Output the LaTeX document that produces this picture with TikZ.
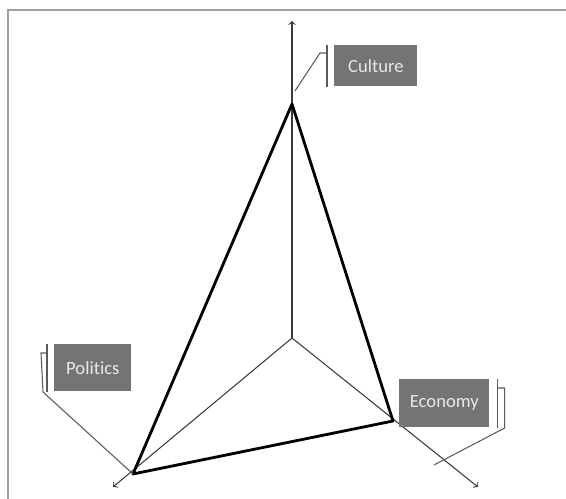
\documentclass[tikz,border=0pt]{standalone}
\usepackage{fontspec}
\setsansfont{Carlito}[Ligatures=NoCommon]
\usetikzlibrary{calc}
\definecolor{boxgray}{HTML}{747474}
\definecolor{boxtext}{HTML}{E8E8E8}
\definecolor{leadgray}{HTML}{5A5A5A}
\definecolor{axisgray}{HTML}{3A3A3A}

\begin{document}
\begin{tikzpicture}[x=0.02cm, y=-0.02cm, >=to,
    labelbox/.style={fill=boxgray, text=boxtext, anchor=north west, inner sep=0pt,
      font=\sffamily\fontsize{10.6}{12}\selectfont},
    leader/.style={draw=leadgray, line width=0.6pt},
    axis/.style={draw=axisgray, line width=0.6pt, ->},
    face/.style={draw=black, line width=1.6pt, line join=round}]
  \useasboundingbox (0,0) rectangle (566,499);
  % Frame
  \draw[gray!75, line width=0.6pt] (8,499) -- (8,10) -- (566,10);
  % Origin, vertices and axis ends
  \coordinate (O) at (292,338);
  \coordinate (C) at (292,104);
  \coordinate (P) at (133,474);
  \coordinate (E) at (393,421);
  \coordinate (Cend) at (292,21);
  \coordinate (Pend) at (113,487);
  \coordinate (Eend) at (478,487);
  % Axes
  \draw[axis] (O) -- (Cend);
  \draw[axis] (O) -- (Pend);
  \draw[axis] (O) -- (Eend);
  % Triangle
  \draw[face] (C) -- (P) -- (E) -- cycle;
  % Labels
  \node[labelbox, minimum width=1.66cm, minimum height=0.82cm] (culture) at (334,45) {Culture};
  \node[labelbox, minimum width=1.54cm, minimum height=0.94cm] (politics) at (54,344) {Politics};
  \node[labelbox, minimum width=1.80cm, minimum height=0.96cm] (economy) at (399,379) {Economy};
  % Callouts
  \coordinate (Ctip) at (295,91);
  \coordinate (Etip) at (434,465);
  \draw[leader] ($(culture.north west)+(-7,0)$) -- ($(culture.south west)+(-7,0)$);
  \draw[leader] ($(culture.north west)+(-7,8)$) -- ++(-7,0) -- (Ctip);
  \draw[leader] ($(politics.north west)+(-7,0)$) -- ($(politics.south west)+(-7,0)$);
  \draw[leader] ($(politics.north west)+(-7,9)$) -- ++(-6,0) -- ++(2,39) -- (P);
  \draw[leader] ($(economy.north east)+(8,0)$) -- ($(economy.south east)+(8,0)$);
  \draw[leader] ($(economy.north east)+(8,9)$) -- ++(7,0) -- ++(0,40) -- (Etip);
\end{tikzpicture}
\end{document}
